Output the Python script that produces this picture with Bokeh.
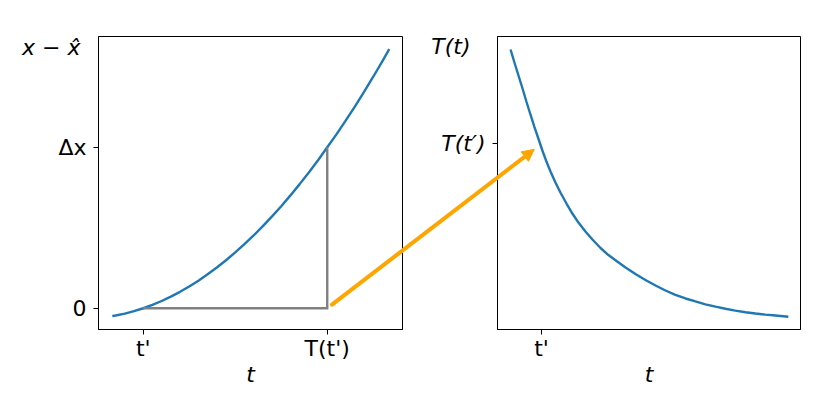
from bokeh.plotting import figure
from bokeh.models import Range1d, FixedTicker, Label, Arrow, NormalHead, GridBox
from bokeh.layouts import row
from bokeh.embed import file_html
from bokeh.resources import INLINE

# ---------------- data ----------------
t_left = [0.832, 0.85, 0.90, 0.95, 1.00, 1.05, 1.10, 1.15, 1.20, 1.25, 1.30,
          1.35, 1.40, 1.45, 1.50, 1.55, 1.60, 1.65, 1.70, 1.75, 1.80, 1.85,
          1.90, 1.95, 2.00, 2.05, 2.10, 2.15, 2.20, 2.25, 2.30, 2.337]
err_left = [-0.048, -0.045, -0.033, -0.018, 0.000, 0.021, 0.045, 0.072, 0.102,
            0.135, 0.171, 0.211, 0.253, 0.298, 0.347, 0.398, 0.452, 0.510,
            0.571, 0.634, 0.701, 0.771, 0.843, 0.919, 1.000, 1.080, 1.165,
            1.253, 1.344, 1.438, 1.535, 1.609]

t_right = [0.832, 0.853, 0.875, 0.897, 0.918, 0.940, 0.962, 0.984, 1.005,
           1.027, 1.049, 1.076, 1.103, 1.136, 1.168, 1.201, 1.239, 1.277,
           1.321, 1.364, 1.408, 1.457, 1.511, 1.565, 1.620, 1.674, 1.728,
           1.783, 1.837, 1.891, 1.946, 2.000, 2.054, 2.109, 2.163, 2.217,
           2.272, 2.342]
T_right = [3.016, 2.876, 2.736, 2.596, 2.456, 2.316, 2.181, 2.052, 1.928,
           1.809, 1.702, 1.583, 1.476, 1.357, 1.249, 1.152, 1.055, 0.969,
           0.878, 0.802, 0.738, 0.668, 0.598, 0.533, 0.474, 0.420, 0.374,
           0.334, 0.302, 0.271, 0.246, 0.223, 0.204, 0.186, 0.172, 0.160,
           0.151, 0.137]

t_prime = 1.0
T_of_t_prime = 2.0
delta_x = 1.0

left_xticks = [1.0, 2.0]
left_xtick_labels = ["t'", "T(t')"]
left_yticks = [0.0, 1.0]
left_ytick_labels = ["0", "Δx"]
right_xticks = [1.0]
right_xtick_labels = ["t'"]
right_yticks = [2.0]
right_ytick_labels = ["T(t′)"]
left_ylabel = "x − x̂"
right_ylabel = "T(t)"
xlabel = "t"

# ---------------- layout constants ----------------
FONT = "DejaVu Sans"
FS = "22px"
BLUE = "#1f77b4"
GRAY = "#808080"
ORANGE = "#FFA500"
LW = 2.4

FT, FH = 36, 293          # frame top (canvas) and frame height
L_BL, L_FW, L_BR = 98, 304, 14
R_BL, R_FW, R_BR = 81, 303, 14
BB = 70
H = FT + FH + BB
W1 = L_BL + L_FW + L_BR
W2 = R_BL + R_FW + R_BR

lx0, lx1 = 0.757, 2.409
ly0, ly1 = -0.132, 1.688
rx0, rx1 = 0.761, 2.408
ry0, ry1 = 0.0, 3.156


def make_fig(bl, fw, br, xr, yr):
    p = figure(width=bl + fw + br, height=H, frame_width=fw, frame_height=FH,
               x_range=Range1d(*xr), y_range=Range1d(*yr),
               output_backend="svg", toolbar_location=None,
               min_border_left=bl, min_border_right=br,
               min_border_top=FT, min_border_bottom=BB)
    p.outline_line_color = "black"
    p.outline_line_width = 1
    p.outline_line_alpha = 1
    p.grid.visible = False
    p.background_fill_color = "white"
    p.border_fill_color = "white"
    for ax in (p.xaxis[0], p.yaxis[0]):
        ax.major_tick_out = 5
        ax.major_tick_in = 0
        ax.minor_tick_out = 0
        ax.minor_tick_in = 0
        ax.major_tick_line_color = "black"
        ax.axis_line_color = "black"
        ax.major_label_text_font = FONT
        ax.major_label_text_font_size = FS
        ax.major_label_text_color = "black"
        ax.axis_label_text_font = FONT
        ax.axis_label_text_font_size = FS
        ax.axis_label_text_color = "black"
        ax.axis_label_text_font_style = "italic"
    p.xaxis.major_label_standoff = 1
    p.yaxis.major_label_standoff = 7
    p.xaxis.axis_label_standoff = -2
    return p


# ---------------- left panel ----------------
p1 = make_fig(L_BL, L_FW, L_BR, (lx0, lx1), (ly0, ly1))
p1.line(t_left, err_left, line_color=BLUE, line_width=LW)
p1.line([t_prime, T_of_t_prime, T_of_t_prime], [0.0, 0.0, delta_x],
        line_color=GRAY, line_width=LW, line_join="miter")
p1.xaxis.ticker = FixedTicker(ticks=left_xticks)
p1.xaxis.major_label_overrides = dict(zip(left_xticks, left_xtick_labels))
p1.yaxis.ticker = FixedTicker(ticks=left_yticks)
p1.yaxis.major_label_overrides = dict(zip(left_yticks, left_ytick_labels))
p1.xaxis.axis_label = xlabel

# ---------------- right panel ----------------
p2 = make_fig(R_BL, R_FW, R_BR, (rx0, rx1), (ry0, ry1))
p2.line(t_right, T_right, line_color=BLUE, line_width=LW)
p2.xaxis.ticker = FixedTicker(ticks=right_xticks)
p2.xaxis.major_label_overrides = dict(zip(right_xticks, right_xtick_labels))
p2.yaxis.ticker = FixedTicker(ticks=right_yticks)
p2.yaxis.major_label_overrides = dict(zip(right_yticks, right_ytick_labels))
p2.yaxis.major_label_text_font_style = "italic"
p2.xaxis.axis_label = xlabel

# ---------------- transparent overlay spanning both panels ----------------
# (pixel coordinates; used for the connecting arrow and the top-left y labels)
WT = W1 + W2
ov = figure(width=WT, height=H, frame_width=WT, frame_height=H,
            x_range=Range1d(0, WT), y_range=Range1d(H, 0),
            x_axis_type=None, y_axis_type=None, title=None,
            output_backend="svg", toolbar_location=None, min_border=0)
ov.outline_line_color = None
ov.background_fill_color = None
ov.border_fill_color = None

L_LEFT = L_BL
R_LEFT = W1 + R_BL


def l_to_px(x, y):
    return (L_LEFT + (x - lx0) / (lx1 - lx0) * L_FW,
            FT + (ly1 - y) / (ly1 - ly0) * FH)


def r_to_px(x, y):
    return (R_LEFT + (x - rx0) / (rx1 - rx0) * R_FW,
            FT + (ry1 - y) / (ry1 - ry0) * FH)


ax_, ay_ = l_to_px(T_of_t_prime, 0.0)
bx_, by_ = r_to_px(t_prime, T_of_t_prime)
dx, dy = bx_ - ax_, by_ - ay_
dl = (dx * dx + dy * dy) ** 0.5
ux, uy = dx / dl, dy / dl
ov.add_layout(Arrow(x_start=ax_ + 6 * ux, y_start=ay_ + 6 * uy,
                    x_end=bx_ - 9 * ux, y_end=by_ - 9 * uy,
                    end=NormalHead(size=12, fill_color=ORANGE, line_color=ORANGE, line_width=1),
                    line_color=ORANGE, line_width=4, line_cap="round"))

ov.add_layout(Label(x=L_LEFT - 18, y=FT + 10.5, text=left_ylabel, text_font=FONT,
                    text_font_size=FS, text_font_style="italic", text_color="black",
                    text_align="right", text_baseline="alphabetic"))
ov.add_layout(Label(x=R_LEFT - 27, y=FT + 10, text=right_ylabel, text_font=FONT,
                    text_font_size=FS, text_font_style="italic", text_color="black",
                    text_align="right", text_baseline="alphabetic"))

layout = GridBox(children=[(p1, 0, 0), (p2, 0, 1), (row(ov), 0, 0, 1, 2)])
with open("out.html", "w") as f:
    f.write(file_html(layout, INLINE))
